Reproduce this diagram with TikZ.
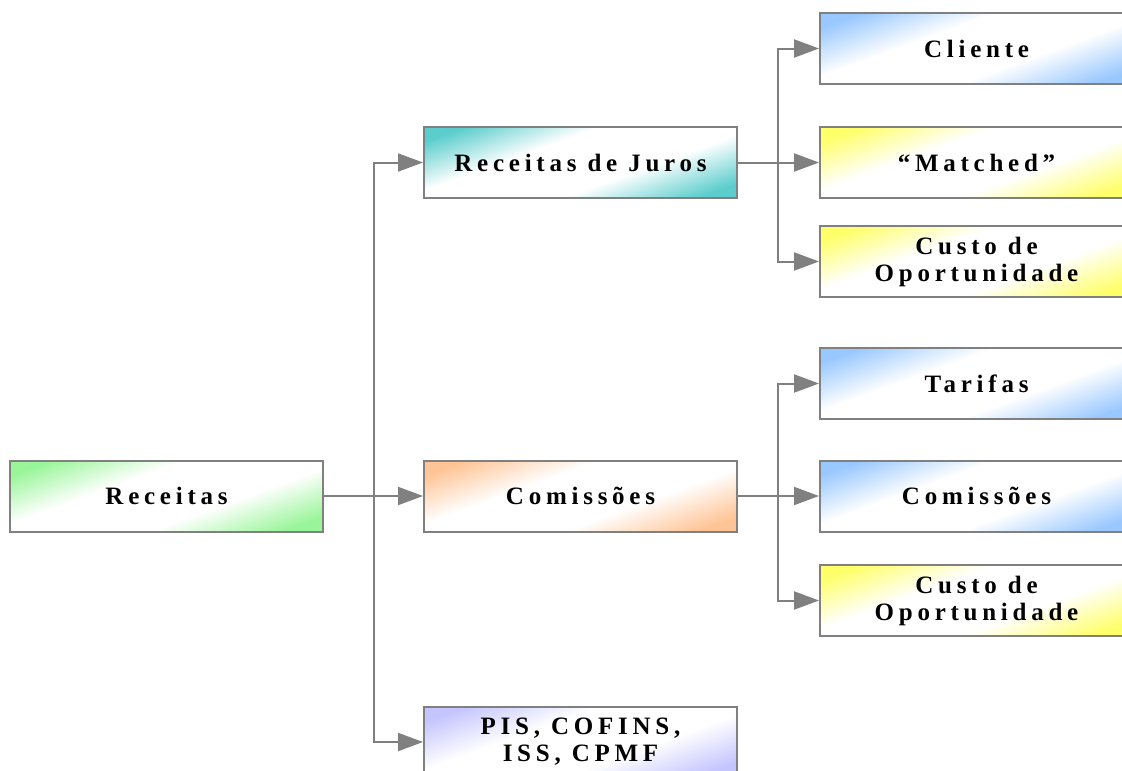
\documentclass[tikz,border=0pt]{standalone}
\usepackage{fontspec}
\setmainfont{Liberation Serif}[LetterSpace=19]
\usetikzlibrary{arrows.meta}

\definecolor{linegray}{HTML}{808080}
\definecolor{greenfill}{HTML}{99F599}
\definecolor{tealfill}{HTML}{5CCDCD}
\definecolor{orangefill}{HTML}{FFC495}
\definecolor{bluefill}{HTML}{99C8FF}
\definecolor{yellowfill}{HTML}{FFFF6A}
\definecolor{lilacfill}{HTML}{C4C4FF}

% colour at two opposite corners, white along the other diagonal
\colorlet{boxcol}{white}
\pgfdeclareverticalshading[boxcol]{cornerfade}{100bp}{%
  color(0bp)=(boxcol); color(23bp)=(boxcol); color(40bp)=(white);
  color(60bp)=(white); color(77bp)=(boxcol); color(100bp)=(boxcol)}

\tikzset{
  box/.style={draw=linegray, line width=2pt, rectangle,
    minimum width=313pt, minimum height=71pt, inner sep=0pt,
    align=center, font=\fontsize{25}{27}\selectfont\bfseries,
    /utils/exec={\colorlet{boxcol}{#1}},
    shading=cornerfade, shading angle=20},
  link/.style={draw=linegray, line width=2pt},
  feed/.style={link, -{Triangle[length=25pt,width=18pt]}},
}

\begin{document}
\begin{tikzpicture}[x=1pt,y=-1pt]
  \useasboundingbox (0,0) rectangle (1122,771);
  \clip (0,0) rectangle (1122,771);

  % root
  \node[box=greenfill] (rec) at (166.5,496) {Receitas};

  % second level
  \node[box=tealfill]   (juros) at (580.5,162.5) {Receitas de Juros};
  \node[box=orangefill] (com)   at (580.5,496)   {Comissões};
  \node[box=lilacfill]  (pis)   at (580.5,742)   {PIS, COFINS,\\ISS, CPMF};

  % third level
  \node[box=bluefill]   (cli)  at (976.5,48.5)  {Cliente};
  \node[box=yellowfill] (mat)  at (976.5,162.5) {“Matched”};
  \node[box=yellowfill] (cop1) at (976.5,261.5) {Custo de\\Oportunidade};
  \node[box=bluefill]   (tar)  at (976.5,383.5) {Tarifas};
  \node[box=bluefill]   (com2) at (976.5,496)   {Comissões};
  \node[box=yellowfill] (cop2) at (976.5,600.5) {Custo de\\Oportunidade};

  % junction points of the trunks
  \coordinate (j0) at (374,496);
  \coordinate (j1) at (778,162.5);
  \coordinate (j2) at (778,496);

  % root to second level
  \draw[link] (rec.east) -- (j0);
  \draw[feed] (j0) |- (juros.west);
  \draw[feed] (j0) -- (com.west);
  \draw[feed] (j0) |- (pis.west);

  % interest revenue branch
  \draw[link] (juros.east) -- (j1);
  \draw[feed] (j1) |- (cli.west);
  \draw[feed] (j1) -- (mat.west);
  \draw[feed] (j1) |- (cop1.west);

  % commissions branch
  \draw[link] (com.east) -- (j2);
  \draw[feed] (j2) |- (tar.west);
  \draw[feed] (j2) -- (com2.west);
  \draw[feed] (j2) |- (cop2.west);
\end{tikzpicture}
\end{document}
